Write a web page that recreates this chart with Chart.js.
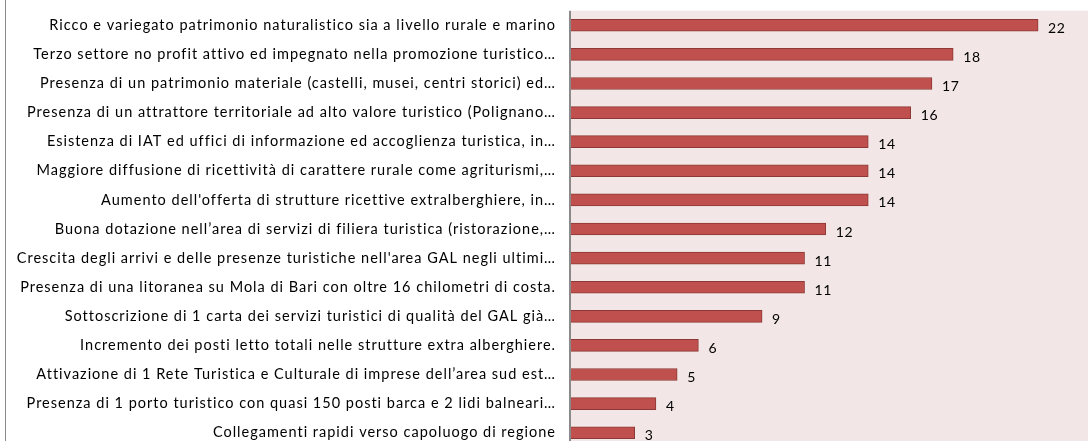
<!DOCTYPE html>
<html>
<head>
<meta charset="utf-8">
<script src="https://cdn.jsdelivr.net/npm/chart.js@4/dist/chart.umd.min.js"></script>
<style>
  html, body { margin: 0; padding: 0; background: #fff; overflow: hidden; }
  #box { position: relative; width: 1088px; height: 468px; margin-top: -5px; }
  #box:before { content: ""; position: absolute; left: 5px; top: 0; width: 1px; height: 468px; background: #8a8a8a; }
</style>
</head>
<body>
<div id="box"><canvas id="grafico"></canvas></div>
<script>
// categorie e valori
var etichette = [
    "Ricco e variegato patrimonio naturalistico sia a livello rurale e marino",
    "Terzo settore no profit attivo ed impegnato nella promozione turistico…",
    "Presenza di un patrimonio materiale (castelli, musei, centri storici) ed…",
    "Presenza di un attrattore territoriale ad alto valore turistico (Polignano…",
    "Esistenza di IAT ed uffici di informazione ed accoglienza turistica, in…",
    "Maggiore diffusione di ricettività di carattere rurale come agriturismi,…",
    "Aumento dell'offerta di strutture ricettive extralberghiere, in…",
    "Buona dotazione nell’area di servizi di filiera turistica (ristorazione,…",
    "Crescita degli arrivi e delle presenze turistiche nell'area GAL negli ultimi…",
    "Presenza di una litoranea su Mola di Bari con oltre 16 chilometri di costa.",
    "Sottoscrizione di 1 carta dei servizi turistici di qualità del GAL già…",
    "Incremento dei posti letto totali nelle strutture extra alberghiere.",
    "Attivazione di 1 Rete Turistica e Culturale di imprese dell’area sud est…",
    "Presenza di 1 porto turistico con quasi 150 posti barca e 2 lidi balneari…",
    "Collegamenti rapidi verso capoluogo di regione"
];
var valori = [22, 18, 17, 16, 14, 14, 14, 12, 11, 11, 9, 6, 5, 4, 3];

// spaziatura delle lettere piu' larga, come nell'originale
var spaziatura = {
    id: "spaziatura",
    beforeUpdate: function (chart) { chart.ctx.letterSpacing = "1px"; },
    beforeDraw: function (chart) { chart.ctx.letterSpacing = "1px"; }
};

// sfondo rosato dell'area del grafico
var sfondoArea = {
    id: "sfondoArea",
    beforeDraw: function (chart) {
        var a = chart.chartArea;
        var ctx = chart.ctx;
        ctx.save();
        ctx.fillStyle = "#f2e7e6";
        ctx.fillRect(a.left, a.top, a.right - a.left, a.bottom - a.top);
        ctx.restore();
    },
    afterDraw: function (chart) {
        // linea dell'asse verticale
        var a = chart.chartArea;
        var ctx = chart.ctx;
        ctx.save();
        ctx.strokeStyle = "#8a8a8a";
        ctx.lineWidth = 2;
        ctx.beginPath();
        ctx.moveTo(a.left - 1, a.top);
        ctx.lineTo(a.left - 1, a.bottom);
        ctx.stroke();
        ctx.restore();
    }
};

// etichette dei valori a destra delle barre
var etichetteValori = {
    id: "etichetteValori",
    afterDatasetsDraw: function (chart) {
        var ctx = chart.ctx;
        var meta = chart.getDatasetMeta(0);
        ctx.save();
        ctx.letterSpacing = "0.6px";
        ctx.fillStyle = "#000";
        ctx.font = "14px Lato";
        ctx.textBaseline = "middle";
        meta.data.forEach(function (bar, i) {
            ctx.fillText(String(valori[i]), bar.x + 10, bar.y + 3);
        });
        ctx.restore();
    }
};

var ctx = document.getElementById("grafico").getContext("2d");
var grafico = new Chart(ctx, {
    type: "bar",
    data: {
        labels: etichette,
        datasets: [{
            data: valori,
            backgroundColor: "#c0504d",
            borderColor: "#8c3836",
            borderWidth: 1,
            barThickness: 12
        }]
    },
    options: {
        indexAxis: "y",
        responsive: true,
        maintainAspectRatio: false,
        animation: false,
        layout: { padding: { top: 5, left: 0, right: 0, bottom: 0 } },
        plugins: {
            legend: { display: false },
            tooltip: { enabled: false }
        },
        scales: {
            x: {
                display: false,
                min: 0,
                max: 24.35
            },
            y: {
                grid: { display: false },
                border: { display: false },
                ticks: {
                    color: "#000",
                    font: { family: "Lato", size: 14.5 },
                    padding: 7,
                    autoSkip: false
                },
                afterFit: function (scale) {
                    scale.width = 571;
                }
            }
        }
    },
    plugins: [spaziatura, sfondoArea, etichetteValori]
});
</script>
</body>
</html>
